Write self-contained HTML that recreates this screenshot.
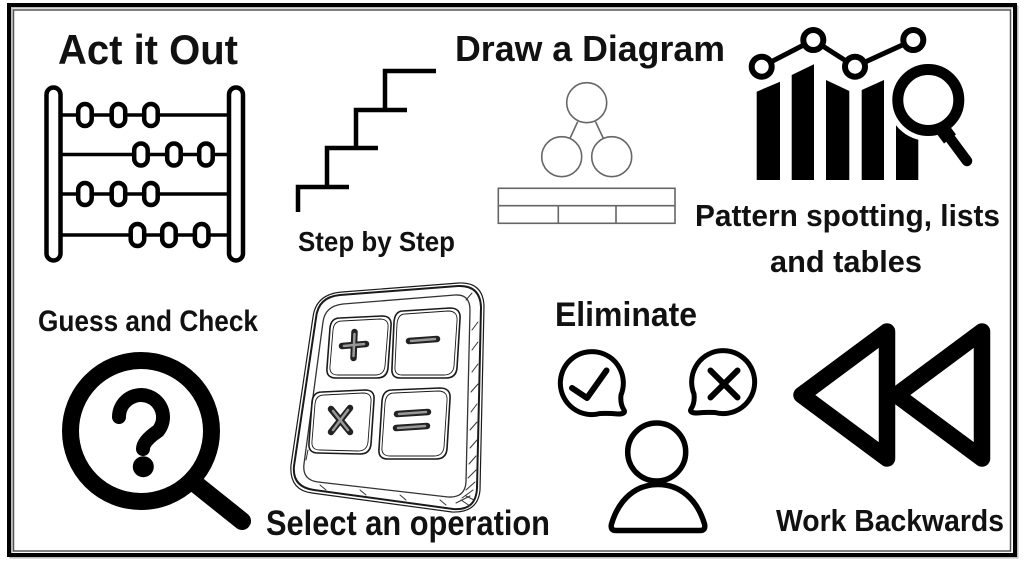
<!DOCTYPE html>
<html>
<head>
<meta charset="utf-8">
<style>
  html,body{margin:0;padding:0;background:#fff;}
  body{width:1024px;height:561px;overflow:hidden;}
  svg{display:block;}
  text{font-family:"Liberation Sans",Arial,sans-serif;font-weight:bold;fill:#111;}
</style>
</head>
<body>
<svg width="1024" height="561" viewBox="0 0 1024 561" xmlns="http://www.w3.org/2000/svg">
  <rect x="0" y="0" width="1024" height="561" fill="#fff"/>
  <!-- frame -->
  <rect x="11" y="7" width="1006" height="550" fill="none" stroke="#bbb" stroke-width="3"/>
  <rect x="9" y="5" width="1006" height="550" fill="none" stroke="#000" stroke-width="4"/>
  <rect x="13.5" y="10" width="997" height="541" fill="none" stroke="#555" stroke-width="1.5"/>

  <!-- ===== Act it Out ===== -->
  <text x="58" y="64" font-size="42" textLength="180" lengthAdjust="spacingAndGlyphs">Act it Out</text>
  <g fill="none" stroke="#000">
    <g stroke-width="3.5">
      <line x1="62" y1="115" x2="228" y2="115"/>
      <line x1="62" y1="154.5" x2="228" y2="154.5"/>
      <line x1="62" y1="194" x2="228" y2="194"/>
      <line x1="62" y1="235" x2="228" y2="235"/>
    </g>
    <rect x="46.5" y="87.5" width="14" height="173" rx="7" stroke-width="4.5" fill="#fff"/>
    <rect x="229" y="87.5" width="14" height="173" rx="7" stroke-width="4.5" fill="#fff"/>
    <g stroke-width="4.5" fill="#fff">
      <rect x="78.2" y="104" width="13.5" height="22" rx="6.7"/>
      <rect x="111.7" y="104" width="13.5" height="22" rx="6.7"/>
      <rect x="144.2" y="104" width="13.5" height="22" rx="6.7"/>

      <rect x="134.2" y="143.5" width="13.5" height="22" rx="6.7"/>
      <rect x="167.2" y="143.5" width="13.5" height="22" rx="6.7"/>
      <rect x="199.2" y="143.5" width="13.5" height="22" rx="6.7"/>

      <rect x="78.2" y="183" width="13.5" height="22" rx="6.7"/>
      <rect x="111.7" y="183" width="13.5" height="22" rx="6.7"/>
      <rect x="144.2" y="183" width="13.5" height="22" rx="6.7"/>

      <rect x="130.7" y="224" width="13.5" height="22" rx="6.7"/>
      <rect x="162.2" y="224" width="13.5" height="22" rx="6.7"/>
      <rect x="194.9" y="224" width="13.5" height="22" rx="6.7"/>
    </g>
  </g>

  <!-- ===== Step by Step ===== -->
  <g stroke="#000" stroke-width="4.5" fill="none">
    <path d="M298,212 V187 H349"/>
    <path d="M327,187 V148 H378"/>
    <path d="M356,148 V110 H407"/>
    <path d="M385,110 V71 H436"/>
  </g>
  <text x="298" y="251" font-size="28" textLength="157" lengthAdjust="spacingAndGlyphs">Step by Step</text>

  <!-- ===== Draw a Diagram ===== -->
  <text x="455" y="61" font-size="36" textLength="270" lengthAdjust="spacingAndGlyphs">Draw a Diagram</text>
  <g fill="none" stroke="#666" stroke-width="1.6">
    <circle cx="586.7" cy="102.7" r="20"/>
    <circle cx="561.7" cy="156.7" r="20"/>
    <circle cx="611.7" cy="156.7" r="20"/>
    <line x1="577.7" y1="121.7" x2="570" y2="138.3"/>
    <line x1="595.5" y1="121.7" x2="603.3" y2="138.3"/>
    <rect x="498.3" y="188.3" width="176.7" height="35"/>
    <line x1="498.3" y1="205.7" x2="675" y2="205.7"/>
    <line x1="558.3" y1="205.7" x2="558.3" y2="223.3"/>
    <line x1="616" y1="205.7" x2="616" y2="223.3"/>
  </g>

  <!-- ===== Pattern icon ===== -->
  <g fill="#000">
    <polygon points="756.7,91.7 780,81.7 780,180 756.7,180"/>
    <polygon points="791.7,75 814,64.3 814,180 791.7,180"/>
    <polygon points="826,80 849.3,91 849.3,180 826,180"/>
    <polygon points="861.7,90 884,80 884,180 861.7,180"/>
    <polygon points="896,120 918.3,130 918.3,180 896,180"/>
  </g>
  <polyline points="761.7,66.7 813.3,40 855,66.7 913.3,40" fill="none" stroke="#000" stroke-width="5"/>
  <g fill="#fff" stroke="#000" stroke-width="6">
    <circle cx="761.7" cy="66.7" r="10"/>
    <circle cx="813.3" cy="40" r="10"/>
    <circle cx="855" cy="66.7" r="10"/>
    <circle cx="913.3" cy="40" r="10"/>
  </g>
  <!-- magnifier halo -->
  <circle cx="928.3" cy="100" r="41" fill="#fff"/>
  <line x1="944" y1="130" x2="967" y2="161" stroke="#fff" stroke-width="20" stroke-linecap="round"/>
  <circle cx="928.3" cy="100" r="30.5" fill="#fff" stroke="#000" stroke-width="11"/>
  <line x1="944" y1="130" x2="967" y2="161" stroke="#000" stroke-width="10.5" stroke-linecap="round"/>
  <line x1="941" y1="127" x2="950" y2="139" stroke="#000" stroke-width="15"/>

  <text x="695" y="226" font-size="31" textLength="305" lengthAdjust="spacingAndGlyphs">Pattern spotting, lists</text>
  <text x="770" y="272" font-size="31" textLength="152" lengthAdjust="spacingAndGlyphs">and tables</text>

  <!-- ===== Guess and Check ===== -->
  <text x="38" y="331" font-size="30" textLength="220" lengthAdjust="spacingAndGlyphs">Guess and Check</text>
  <circle cx="141" cy="431" r="70.5" fill="none" stroke="#000" stroke-width="17"/>
  <line x1="192" y1="481" x2="242" y2="521" stroke="#000" stroke-width="18" stroke-linecap="round"/>
  <path d="M119,417 A22,22 0 1 1 158,431 Q143,441 143,449" fill="none" stroke="#000" stroke-width="14" stroke-linecap="round"/>
  <circle cx="143.3" cy="466.7" r="10.5" fill="#000"/>

  <!-- ===== Calculator ===== -->
  <g fill="none" stroke="#1a1a1a" stroke-linecap="round" stroke-linejoin="round">
    <path d="M340,295 L458,286 Q480,285 481,307 L477,488 Q476,511 453,509 L314,490 Q292,487 294,466 L316,318 Q318,297 340,295 Z" stroke-width="2"/>
    <path d="M342,292 L459,283 Q483,282 484,306 L480,490 Q478,513 452,512 L312,493 Q289,490 291,465 L313,317 Q316,294 342,292 Z" stroke-width="1.2"/>
    <path d="M343,304 L455,295 Q470,294 470,310 L466,482 Q465,498 448,497 L318,482 Q302,480 304,464 L323,322 Q325,306 343,304 Z" stroke-width="1.3" stroke="#333"/>
    <!-- hatching right / bottom -->
    <g stroke-width="1" stroke="#333">
      <line x1="472" y1="330" x2="478" y2="322"/>
      <line x1="472" y1="350" x2="478" y2="342"/>
      <line x1="472" y1="372" x2="478" y2="364"/>
      <line x1="471" y1="392" x2="478" y2="384"/>
      <line x1="471" y1="412" x2="477" y2="404"/>
      <line x1="470" y1="430" x2="477" y2="422"/>
      <line x1="470" y1="448" x2="477" y2="440"/>
      <line x1="469" y1="464" x2="476" y2="456"/>
      <line x1="468" y1="478" x2="476" y2="470"/>
      <line x1="466" y1="490" x2="475" y2="482"/>
      <line x1="462" y1="498" x2="473" y2="490"/>
      <line x1="456" y1="503" x2="470" y2="496"/>
      <line x1="466" y1="496" x2="474" y2="500"/>
      <line x1="461" y1="500" x2="470" y2="506"/>
      <line x1="440" y1="500" x2="446" y2="505"/>
      <line x1="400" y1="495" x2="406" y2="500"/>
      <line x1="360" y1="490" x2="366" y2="495"/>
      <line x1="320" y1="485" x2="326" y2="490"/>
      <line x1="306" y1="460" x2="308" y2="450"/>
      <line x1="466" y1="300" x2="472" y2="293"/>
    </g>
    <!-- buttons -->
    <g stroke-width="1.6">
      <path d="M340,318 L382,316 Q392,316 391,326 L388,368 Q387,378 377,378 L336,378 Q326,378 327,368 L330,328 Q331,318 340,318 Z"/>
      <path d="M342,321 L380,319 Q389,319 388,328 L385,366 Q384,375 375,375 L338,375 Q329,375 330,366 L333,330 Q334,321 342,321 Z" stroke-width="0.9"/>
      <path d="M403,311 L450,308 Q461,308 460,319 L457,368 Q456,378 446,378 L400,378 Q391,378 392,368 L394,322 Q395,311 403,311 Z"/>
      <path d="M405,314 L448,311 Q458,311 457,321 L454,366 Q453,375 444,375 L402,375 Q394,375 395,366 L397,324 Q398,314 405,314 Z" stroke-width="0.9"/>
      <path d="M322,392 L365,390 Q375,390 374,400 L371,444 Q370,454 360,454 L318,453 Q308,453 309,443 L312,402 Q313,392 322,392 Z"/>
      <path d="M324,395 L363,393 Q372,393 371,402 L368,442 Q367,451 358,451 L320,450 Q311,450 312,441 L315,404 Q316,395 324,395 Z" stroke-width="0.9"/>
      <path d="M392,390 L440,388 Q451,388 450,399 L447,449 Q446,459 436,459 L388,459 Q378,459 379,449 L382,401 Q383,390 392,390 Z"/>
      <path d="M394,393 L438,391 Q448,391 447,401 L444,447 Q443,456 434,456 L390,456 Q381,456 382,447 L385,403 Q386,393 394,393 Z" stroke-width="0.9"/>
    </g>
    <!-- symbols -->
    <g stroke="#222" stroke-width="6.5" stroke-linecap="round">
      <line x1="342" y1="346" x2="366" y2="344"/>
      <line x1="354.5" y1="332" x2="353.5" y2="358"/>
      <line x1="409" y1="341" x2="437" y2="339"/>
      <line x1="331" y1="409" x2="350" y2="432"/>
      <line x1="350" y1="408" x2="331" y2="432"/>
      <line x1="397" y1="414" x2="428" y2="412"/>
      <line x1="396" y1="428" x2="427" y2="426"/>
    </g>
    <g stroke="#999" stroke-width="2.5" stroke-linecap="round">
      <line x1="344" y1="346" x2="364" y2="344"/>
      <line x1="354.5" y1="334" x2="353.5" y2="356"/>
      <line x1="411" y1="341" x2="435" y2="339"/>
      <line x1="333" y1="411" x2="348" y2="430"/>
      <line x1="348" y1="410" x2="333" y2="430"/>
      <line x1="399" y1="414" x2="426" y2="412"/>
      <line x1="398" y1="428" x2="425" y2="426"/>
    </g>
  </g>
  <text x="266" y="535" font-size="35" textLength="284" lengthAdjust="spacingAndGlyphs">Select an operation</text>

  <!-- ===== Eliminate ===== -->
  <text x="555" y="326" font-size="34" textLength="142" lengthAdjust="spacingAndGlyphs">Eliminate</text>
  <g fill="none" stroke="#000" stroke-width="5" stroke-linecap="round" stroke-linejoin="round">
    <path d="M600,413.5 A31.5,31.5 0 1 1 621,395 Q620,404 624,410 Q626,414 618,414 Q608,413 600,413.5 Z"/>
    <polyline points="572,388 587,398 606.5,370.5" stroke-width="6"/>
    <path d="M715,412.5 A31.5,31.5 0 1 0 694,394 Q695,403 691,409 Q689,413 697,413 Q707,412 715,412.5 Z"/>
    <line x1="710.5" y1="370.5" x2="737.5" y2="397.5" stroke-width="6"/>
    <line x1="737.5" y1="370.5" x2="710.5" y2="397.5" stroke-width="6"/>
    <circle cx="656.7" cy="452" r="29" stroke-width="5.5"/>
    <path d="M616,530.5 L700,530.5 Q706,530.5 704.5,524 C697,499 680,484.5 658,484.5 C636,484.5 619,499 611.5,524 Q610,530.5 616,530.5 Z" stroke-width="5.5"/>
  </g>

  <!-- ===== Work Backwards ===== -->
  <g fill="none" stroke="#000" stroke-width="16.5" stroke-linejoin="round">
    <path d="M887,331.5 L887,458.5 L801.5,395 Z"/>
    <path d="M982,331.5 L982,458.5 L896.5,395 Z"/>
  </g>
  <text x="776" y="531" font-size="31" textLength="228" lengthAdjust="spacingAndGlyphs">Work Backwards</text>
</svg>
</body>
</html>
